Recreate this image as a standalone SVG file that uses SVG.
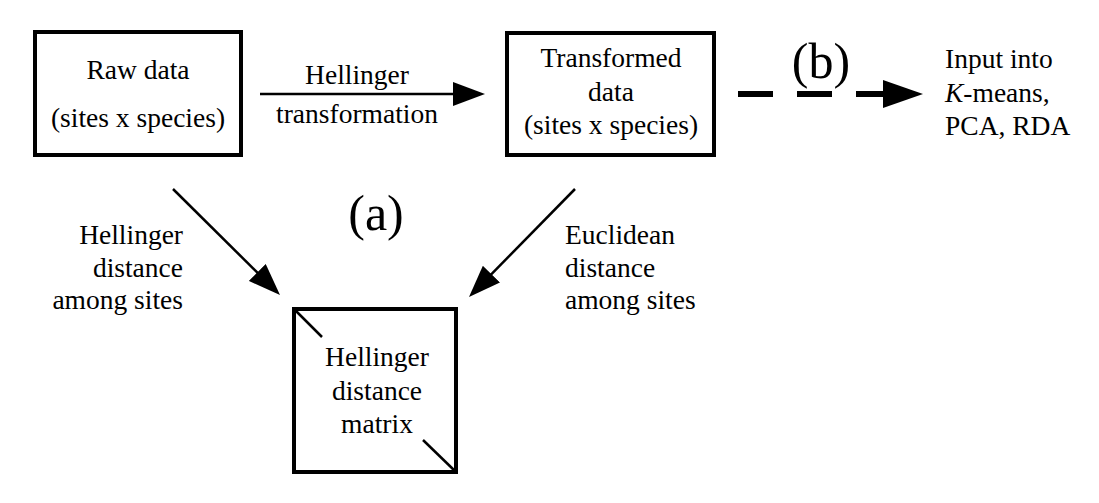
<svg xmlns="http://www.w3.org/2000/svg" width="1099" height="503" viewBox="0 0 1099 503">
<style>
.box{fill:#fff;stroke:#000;stroke-width:4}
.t{font-family:"Liberation Serif","DejaVu Serif",serif;font-size:27.5px;fill:#000}
.c{text-anchor:middle}
.r{text-anchor:end}
.big{font-family:"Liberation Serif","DejaVu Serif",serif;font-size:50px;fill:#000;text-anchor:middle}
.ln{stroke:#000;stroke-width:2.5;fill:none}
</style>
<defs>
<marker id="arr" markerUnits="userSpaceOnUse" markerWidth="32" markerHeight="24" refX="22" refY="12" orient="auto">
<path d="M0,0 L32,12 L0,24 z" fill="#000"/>
</marker>
</defs>
<rect width="1099" height="503" fill="#fff"/>
<g id="raw">
<rect class="box" x="35" y="32" width="206" height="123"/>
<text class="t c" x="138" y="79">Raw data</text>
<text class="t c" x="138" y="127">(sites x species)</text>
</g>
<g id="transformed">
<rect class="box" x="507" y="33" width="207" height="122"/>
<text class="t c" x="611" y="67">Transformed</text>
<text class="t c" x="611" y="101">data</text>
<text class="t c" x="611" y="134">(sites x species)</text>
</g>
<g id="matrix">
<rect class="box" x="294" y="309" width="162" height="163"/>
<line class="ln" x1="294" y1="309" x2="322" y2="337"/>
<line class="ln" x1="423" y1="440" x2="456" y2="472"/>
<text class="t c" x="377" y="366">Hellinger</text>
<text class="t c" x="377" y="400">distance</text>
<text class="t c" x="377" y="433">matrix</text>
</g>
<g id="input">
<text class="t" x="945" y="68">Input into</text>
<text class="t" x="945" y="102"><tspan font-style="italic">K</tspan>-means,</text>
<text class="t" x="945" y="135">PCA, RDA</text>
</g>
<g id="connectors">
<line class="ln" x1="260" y1="94" x2="475" y2="94" marker-end="url(#arr)"/>
<text class="t c" x="357" y="84">Hellinger</text>
<text class="t c" x="357" y="123">transformation</text>
<line class="ln" x1="173" y1="189" x2="272.9" y2="288" marker-end="url(#arr)"/>
<line class="ln" x1="575" y1="189" x2="476" y2="289.9" marker-end="url(#arr)"/>
<text class="t r" x="183" y="244">Hellinger</text>
<text class="t r" x="183" y="277">distance</text>
<text class="t r" x="183" y="309">among sites</text>
<text class="t" x="565" y="244">Euclidean</text>
<text class="t" x="565" y="277">distance</text>
<text class="t" x="565" y="309">among sites</text>
<line x1="738" y1="94" x2="886" y2="94" stroke="#000" stroke-width="6" stroke-dasharray="35 24"/>
<polygon points="883,80 923,94 883,108" fill="#000"/>
<text class="big" x="821" y="78">(b)</text>
<text class="big" x="376" y="230">(a)</text>
</g>
</svg>
